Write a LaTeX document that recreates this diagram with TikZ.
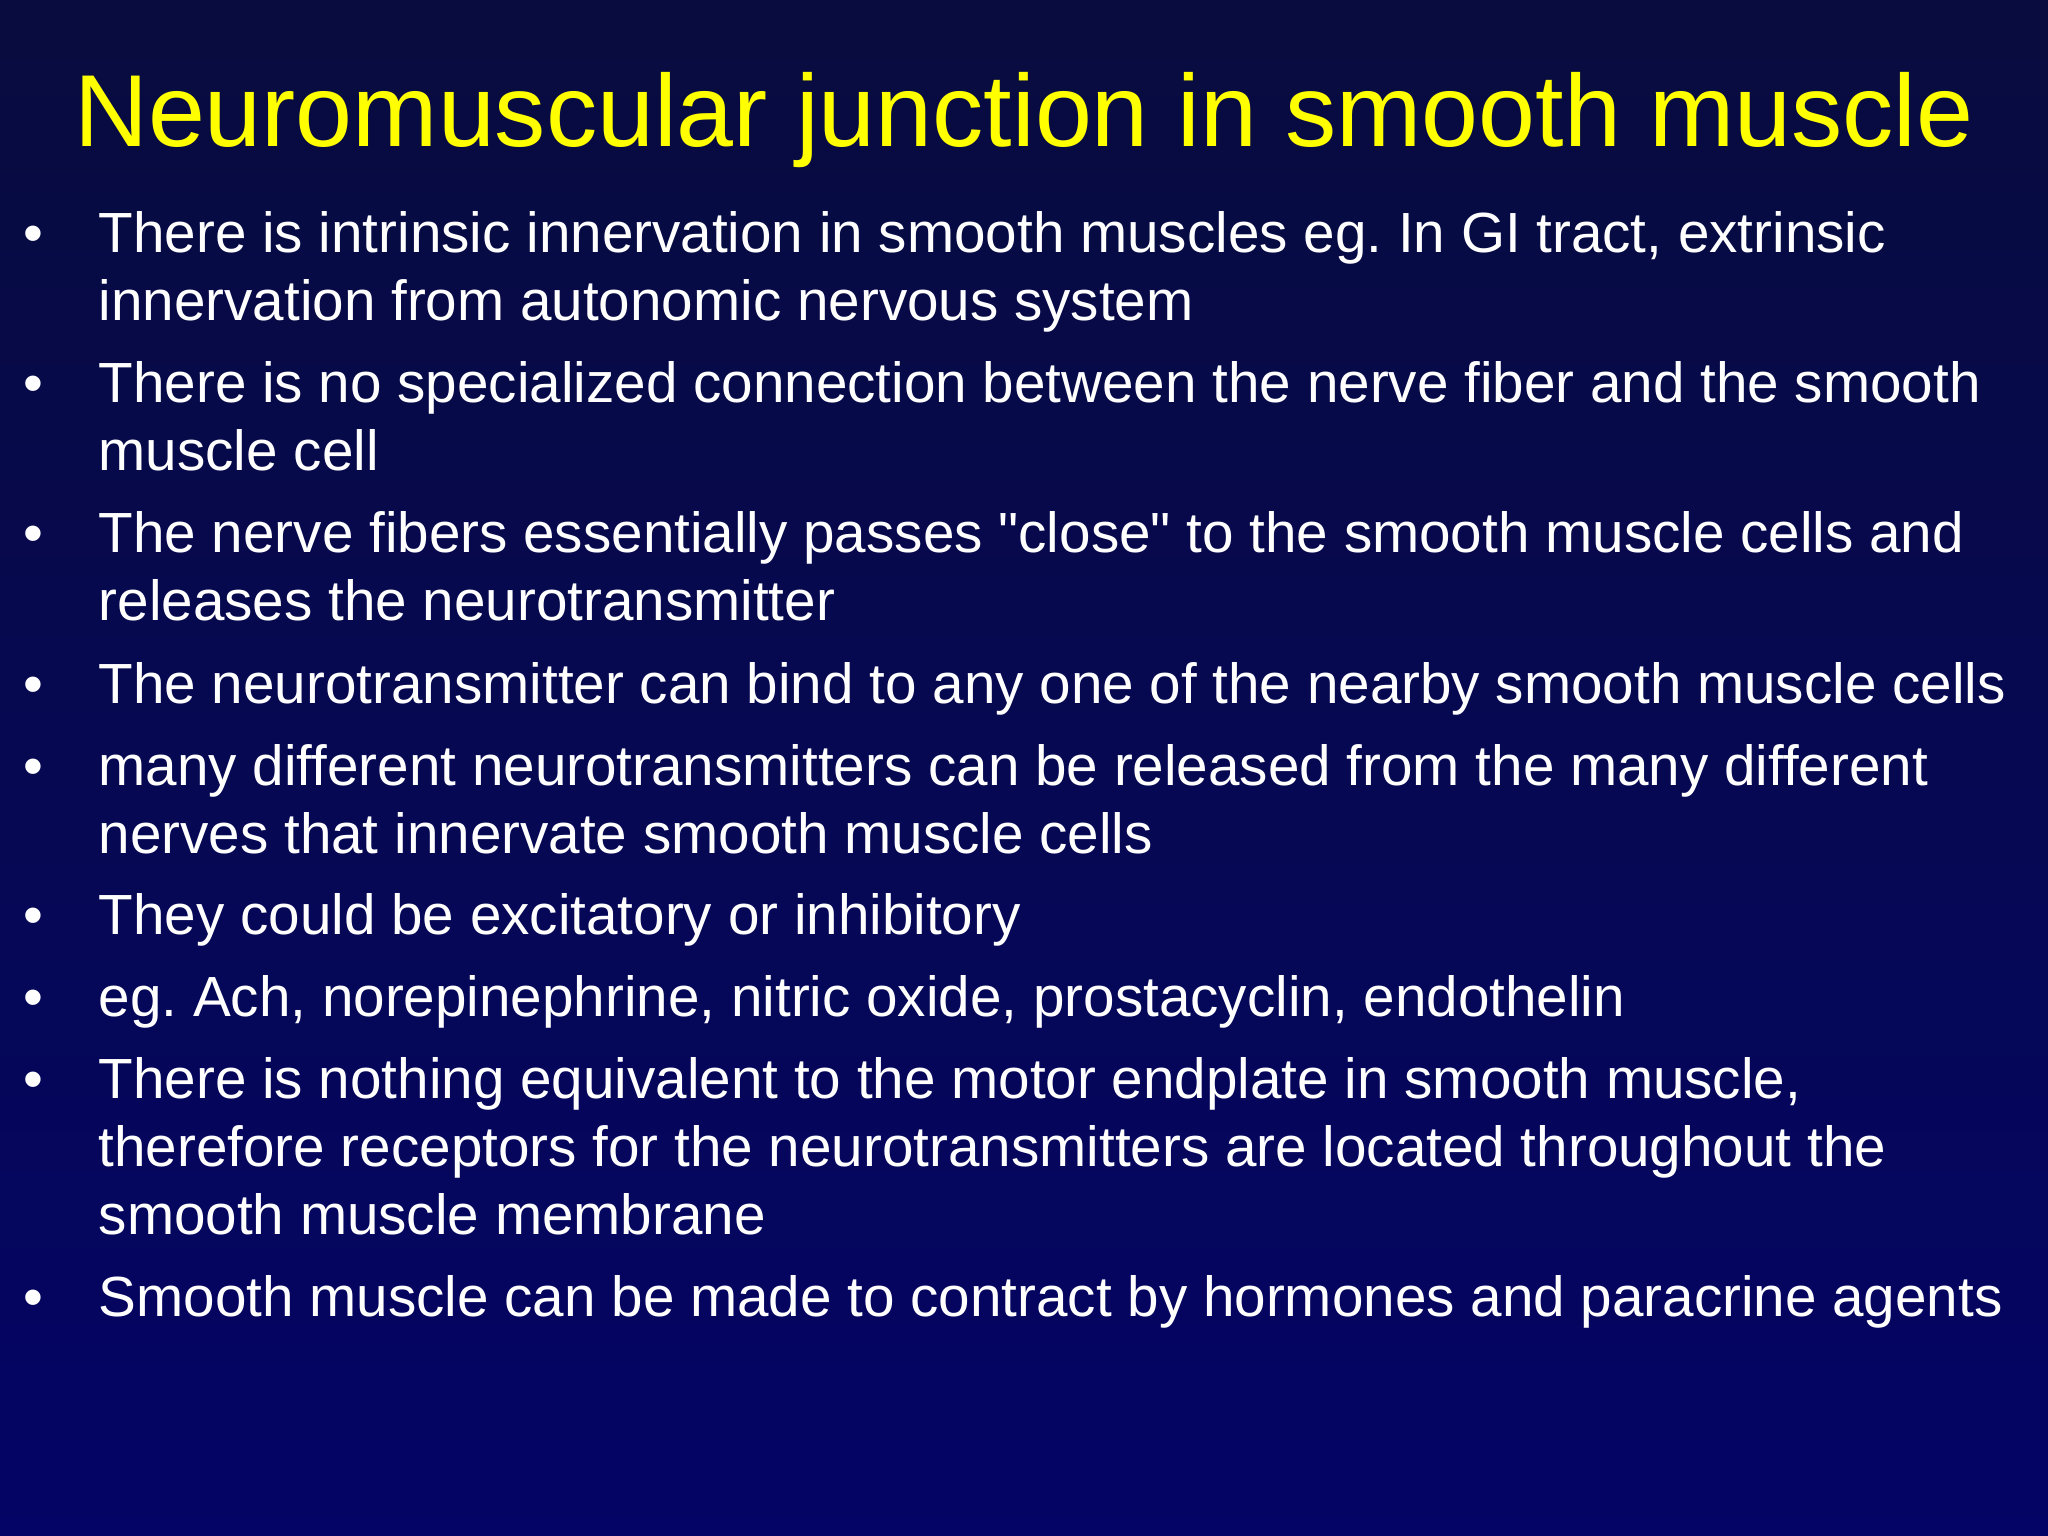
\documentclass[tikz,border=0pt]{standalone}
\usepackage{fontspec}
\setmainfont{Liberation Sans}[Ligatures=TeXOff]
\frenchspacing
\definecolor{bgtop}{RGB}{8,12,62}
\definecolor{bgbot}{RGB}{4,4,102}
\definecolor{ttl}{RGB}{255,255,0}
\begin{document}
\begin{tikzpicture}[x=0.01cm,y=-0.01cm,
  title/.style={anchor=base,text=ttl,font=\fontsize{29.1}{34}\selectfont,inner sep=0},
  btxt/.style={anchor=base west,text=white,inner sep=0,font=\fontsize{16.1}{19.3}\selectfont},
  bul/.style={anchor=base,text=white,inner sep=0,font=\fontsize{16.1}{19.3}\selectfont}]
\shade[top color=bgtop,bottom color=bgbot] (0,0) rectangle (2048,1536);
\useasboundingbox (0,0) rectangle (2048,1536);
\node[title] (t) at (1024,146) {Neuromuscular junction in smooth muscle};
\foreach \y/\n in {252/b1,402/b2,552/b3,703/b4,785/b5,934/b6,1016/b7,1098/b8,1316/b9}
 \node[bul] (\n d) at (33,\y) {•};
\foreach \y/\n/\txt in {
 252/l1/{There is intrinsic innervation in smooth muscles eg. In GI tract, extrinsic},
 320/l2/{innervation from autonomic nervous system},
 402/l3/{There is no specialized connection between the nerve fiber and the smooth},
 470/l4/{muscle cell},
 552/l5/{The nerve fibers essentially passes "close" to the smooth muscle cells and},
 620/l6/{releases the neurotransmitter},
 703/l7/{The neurotransmitter can bind to any one of the nearby smooth muscle cells},
 785/l8/{many different neurotransmitters can be released from the many different},
 853/l9/{nerves that innervate smooth muscle cells},
 934/l10/{They could be excitatory or inhibitory},
 1016/l11/{eg. Ach, norepinephrine, nitric oxide, prostacyclin, endothelin},
 1098/l12/{There is nothing equivalent to the motor endplate in smooth muscle,},
 1166/l13/{therefore receptors for the neurotransmitters are located throughout the},
 1234/l14/{smooth muscle membrane},
 1316/l15/{Smooth muscle can be made to contract by hormones and paracrine agents}}
 \node[btxt] (\n) at (98,\y) {\txt};
\end{tikzpicture}
\end{document}
